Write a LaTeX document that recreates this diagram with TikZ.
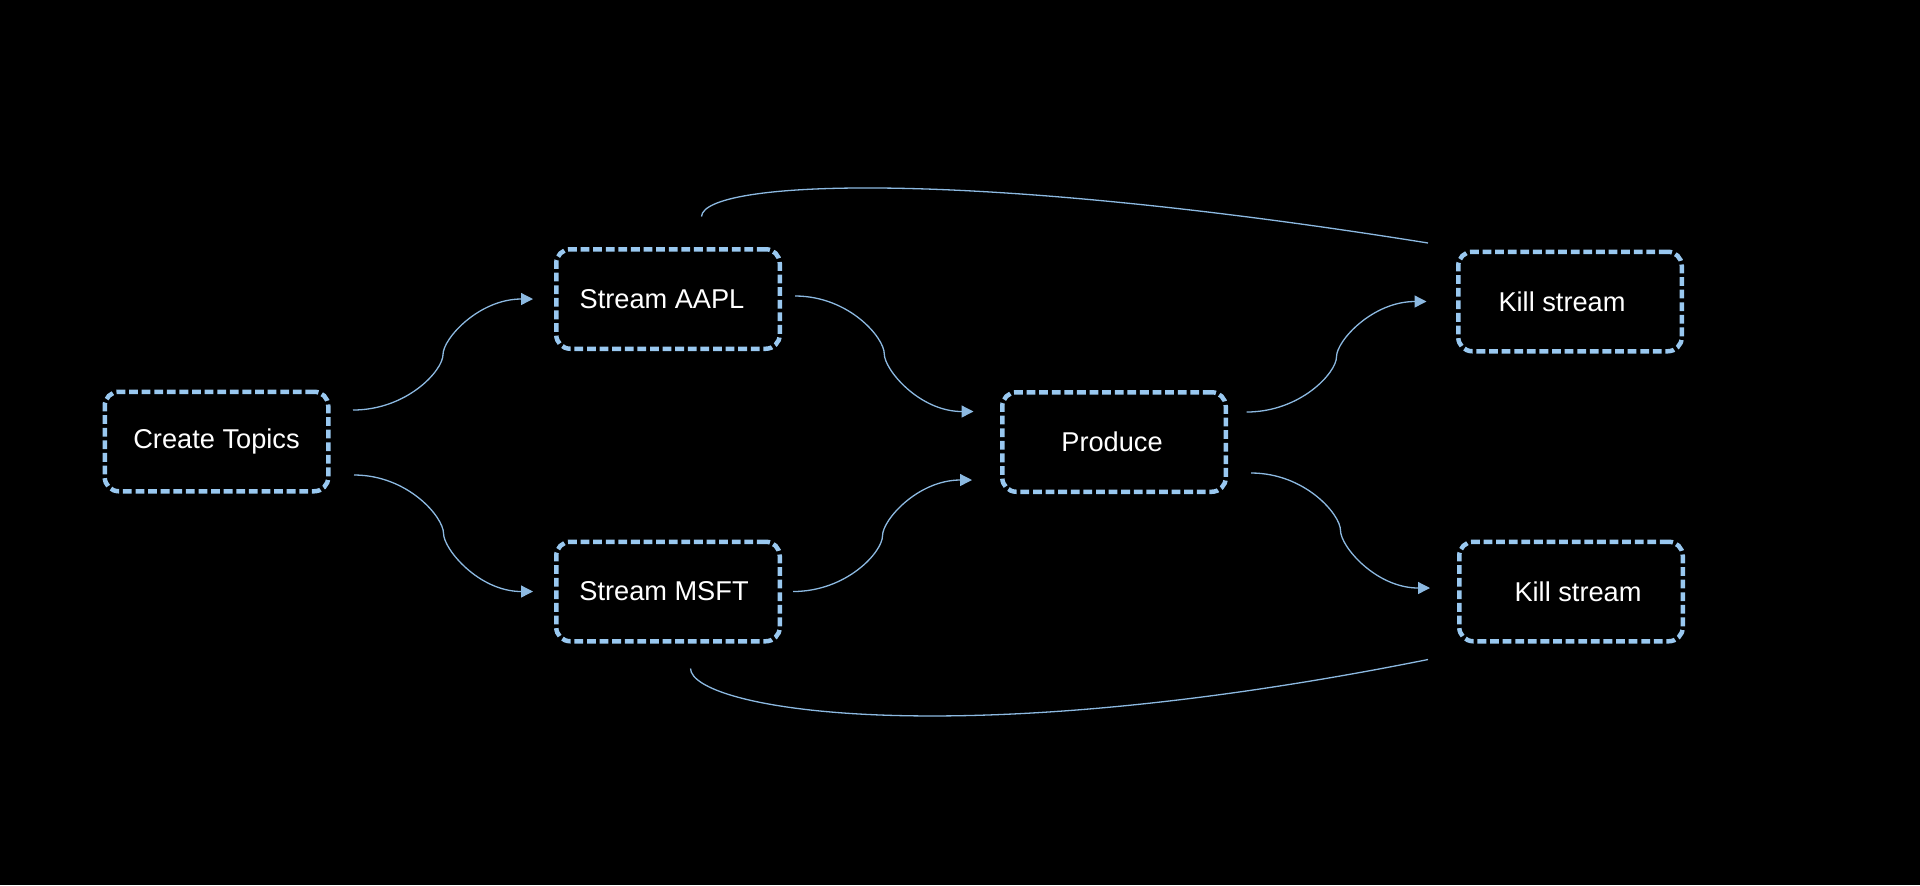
\documentclass[tikz,border=0pt]{standalone}
\usepackage{fontspec}
\setmainfont{Liberation Sans}
\usetikzlibrary{arrows.meta,calc}
\definecolor{boxblue}{RGB}{153,200,240}
\definecolor{linkblue}{RGB}{140,185,225}
\tikzset{
  stagebox/.style={draw=boxblue,line width=2.25pt,dash pattern=on 4.4pt off 1.9pt,
    rounded corners=7pt,minimum width=111.75pt,minimum height=49.75pt,inner sep=0pt},
  stagetext/.style={text=white,font=\fontsize{13.6}{16}\selectfont},
  link/.style={draw=linkblue,line width=0.65pt},
  flow/.style={link,-{Triangle[length=6pt,width=6pt]}},
}
\begin{document}
\begin{tikzpicture}[x=0.5pt,y=0.5pt]
% canvas in pixels, y downwards as negative
\fill[black] (0,0) rectangle (1920,-885);
\useasboundingbox (0,0) rectangle (1920,-885);
\node[stagebox,label={[stagetext]center:Create Topics}] (create) at (216.5,-441.5) {};
\node[stagebox,label={[stagetext,xshift=-3pt]center:Stream AAPL}] (aapl) at (668,-299) {};
\node[stagebox,label={[stagetext,xshift=-2pt]center:Stream MSFT}] (msft) at (668,-591.5) {};
\node[stagebox,label={[stagetext,xshift=-1pt]center:Produce}] (produce) at (1114,-442) {};
\node[stagebox,label={[stagetext,xshift=-4pt]center:Kill stream}] (killa) at (1570,-301.5) {};
\node[stagebox,label={[stagetext,xshift=3.5pt]center:Kill stream}] (killm) at (1571,-591.5) {};
% connector ends
\coordinate (ca0) at ([shift={(22.5,31.5)}]create.east);
\coordinate (ca1) at ([shift={(-21,0)}]aapl.west);
\coordinate (cm0) at ([shift={(23.5,-33.5)}]create.east);
\coordinate (cm1) at ([shift={(-21,0)}]msft.west);
\coordinate (ap0) at ([shift={(13,3)}]aapl.east);
\coordinate (ap1) at ([shift={(-26.5,30.5)}]produce.west);
\coordinate (mp0) at ([shift={(11,0)}]msft.east);
\coordinate (mp1) at ([shift={(-28,-38)}]produce.west);
\coordinate (pk0) at ([shift={(18.5,30)}]produce.east);
\coordinate (pk1) at ([shift={(-29.5,0)}]killa.west);
\coordinate (pl0) at ([shift={(23,-31)}]produce.east);
\coordinate (pl1) at ([shift={(-27,3.5)}]killm.west);
\coordinate (top0) at ([shift={(33.5,30.5)}]aapl.north);
\coordinate (top1) at ([shift={(-28,6.5)}]killa.north west);
\coordinate (bot0) at ([shift={(22.5,-25)}]msft.south);
\coordinate (bot1) at ([shift={(-29,-16)}]killm.south west);
% S-shaped flows
\draw[flow] (ca0) .. controls +(54,0) and +(0,-16) .. ($(ca0)!.5!(ca1)$)
  .. controls +(0,16) and +(-54,0) .. (ca1);
\draw[flow] (cm0) .. controls +(54,0) and +(0,16) .. ($(cm0)!.5!(cm1)$)
  .. controls +(0,-16) and +(-54,0) .. (cm1);
\draw[flow] (ap0) .. controls +(54,0) and +(0,16) .. ($(ap0)!.5!(ap1)$)
  .. controls +(0,-16) and +(-54,0) .. (ap1);
\draw[flow] (mp0) .. controls +(54,0) and +(0,-16) .. ($(mp0)!.5!(mp1)$)
  .. controls +(0,16) and +(-54,0) .. (mp1);
\draw[flow] (pk0) .. controls +(54,0) and +(0,-16) .. ($(pk0)!.5!(pk1)$)
  .. controls +(0,16) and +(-54,0) .. (pk1);
\draw[flow] (pl0) .. controls +(54,0) and +(0,16) .. ($(pl0)!.5!(pl1)$)
  .. controls +(0,-16) and +(-54,0) .. (pl1);
% long returns
\draw[link] (top0) .. controls +(2,36) and +(-468,75) .. (top1);
\draw[link] (bot0) .. controls +(1,-40) and +(-478,-96) .. (bot1);
\end{tikzpicture}
\end{document}
